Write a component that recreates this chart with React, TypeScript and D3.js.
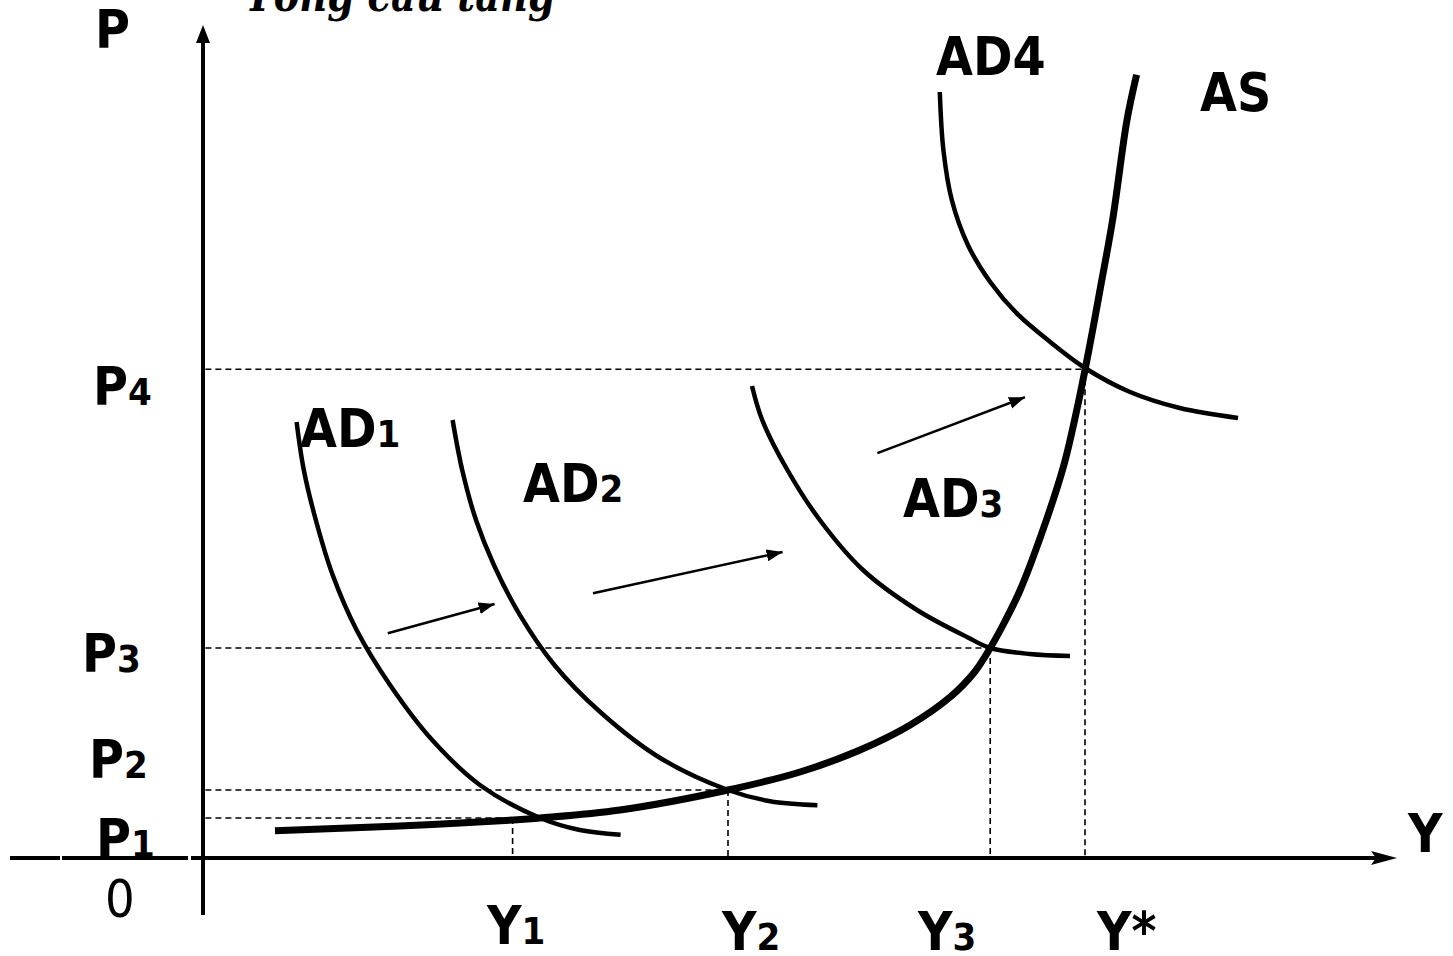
import React from 'react';
import * as d3 from 'd3';

// curves, [output Y, price level P] in chart units (0..100)
const asCurve: [number, number][] = [
  [6, 3.4], [16.4, 4], [25.8, 4.75], [28.1, 5], [34.75, 6], [43.75, 8.5],
  [49.75, 10.75], [54.75, 13.5], [58.9, 16.6], [62.25, 20.1], [64.3, 23.25],
  [65.6, 26.25], [66.8, 29.5], [68.1, 33.5], [69.9, 40.6], [71.7, 48.9],
  [72.9, 56.6], [73.9, 64.1], [74.75, 71], [75.8, 79.75], [77, 92.25], [77.8, 97.9],
];
const ad1: [number, number][] = [
  [7.8, 54.5], [8.4, 48.5], [9.4, 42.25], [10.8, 35.4], [12.8, 28.5],
  [15.6, 21.6], [19.1, 14.75], [23.1, 9.1], [28.1, 5], [31.4, 3.5], [34.8, 2.9],
];
const ad2: [number, number][] = [
  [20.8, 54.75], [21.6, 48.5], [22.75, 42.25], [24.25, 36.6], [26.4, 30.4],
  [29.3, 24.1], [33.1, 18.25], [38.1, 12.5], [43.75, 8.5], [47.25, 7.1], [51.2, 6.6],
];
const ad3: [number, number][] = [
  [45.75, 59], [46.6, 54.75], [48.7, 48.5], [51.4, 42.25], [55, 36],
  [59.5, 31], [63.7, 27.6], [65.6, 26.25], [68.9, 25.5], [72.25, 25.25],
];
const ad4: [number, number][] = [
  [61.4, 95.75], [61.7, 88.5], [62.4, 82.25], [63.75, 76.6], [65.6, 72],
  [67.8, 68.1], [70.6, 64.5], [73.5, 61.25], [77.25, 58.25], [81.4, 56.25], [86.25, 55],
];

const priceTicks = ['P1', 'P2', 'P3', 'P4'];
const outputTicks = ['Y1', 'Y2', 'Y3', 'Y*'];
const priceLevels = [5, 8.5, 26.25, 61.1];
const outputLevels = [25.8, 43.75, 65.6, 73.5];

// demand shift arrows: [from, to]
const shifts: [[number, number], [number, number]][] = [
  [[15.4, 28.1], [24.3, 31.75]],
  [[32.5, 33.1], [48.3, 38.25]],
  [[56.2, 50.6], [68.5, 57.6]],
];

const W = 1453;
const H = 956;
const x = d3.scaleLinear().domain([0, 100]).range([203, 1403]);
const y = d3.scaleLinear().domain([0, 100]).range([858, 58]);

const line = d3
  .line<[number, number]>()
  .x((d) => x(d[0]))
  .y((d) => y(d[1]))
  .curve(d3.curveCatmullRom.alpha(0.5));

const bold = {
  fontFamily: "'DejaVu Sans Condensed', 'DejaVu Sans', sans-serif",
  fontWeight: 'bold' as const,
  fontSize: 53,
};
const SUB = 38;

// label placement (left x, baseline)
const priceTickPos = [[96, 857], [89, 778], [82, 672], [93, 405]];
const outputTickPos = [[487, 944], [722, 950], [918, 950], [1097, 950]];

const Label = ({ x0, y0, text }: { x0: number; y0: number; text: string }) => {
  const head = text.replace(/[0-9]$/, '');
  const sub = text.slice(head.length);
  return (
    <text x={x0} y={y0} {...bold}>
      {head}
      {sub && <tspan fontSize={SUB}>{sub}</tspan>}
    </text>
  );
};

export default function App() {
  return (
    <svg
      width={W}
      height={H}
      style={{ position: 'absolute', left: 0, top: 0, background: '#fff' }}
    >
      <defs>
        <marker
          id="head"
          markerUnits="userSpaceOnUse"
          markerWidth={20}
          markerHeight={16}
          refX={16}
          refY={6}
          orient="auto"
        >
          <path d="M0,0L16,6L0,12Z" fill="#000" />
        </marker>
      </defs>

      {/* title cut off at the top edge */}
      <text
        x={245}
        y={11}
        fontFamily="'DejaVu Serif', serif"
        fontStyle="italic"
        fontWeight="bold"
        fontSize={46}
        textLength={310}
        lengthAdjust="spacingAndGlyphs"
      >
        Tổng cầu tăng
      </text>

      {/* dashed guides */}
      {priceLevels.map((p, i) => (
        <g key={i} stroke="#000" strokeWidth={1.6} strokeDasharray="6,4" fill="none">
          <line x1={x(0.2)} x2={x(outputLevels[i])} y1={y(p)} y2={y(p)} />
          <line x1={x(outputLevels[i])} x2={x(outputLevels[i])} y1={y(p)} y2={y(0)} />
        </g>
      ))}

      {/* axes */}
      <g stroke="#000" strokeWidth={4}>
        <line x1={10} x2={60} y1={y(0)} y2={y(0)} />
        <line x1={62} x2={188} y1={y(0)} y2={y(0)} />
        <line x1={191} x2={1385} y1={y(0)} y2={y(0)} />
        <line x1={x(0)} x2={x(0)} y1={915} y2={38} />
      </g>
      <path d={`M1397,${y(0)}L1371,${y(0) - 7}L1376,${y(0)}L1371,${y(0) + 7}Z`} fill="#000" />
      <path d={`M${x(0)},25L${x(0) - 7},43L${x(0) + 7},43Z`} fill="#000" />

      {/* curves */}
      {[ad1, ad2, ad3, ad4].map((c, i) => (
        <path key={i} d={line(c) ?? ''} fill="none" stroke="#000" strokeWidth={4.5} />
      ))}
      <path d={line(asCurve) ?? ''} fill="none" stroke="#000" strokeWidth={7} />

      {/* shift arrows */}
      {shifts.map(([a, b], i) => (
        <line
          key={i}
          x1={x(a[0])}
          y1={y(a[1])}
          x2={x(b[0])}
          y2={y(b[1])}
          stroke="#000"
          strokeWidth={2.5}
          markerEnd="url(#head)"
        />
      ))}

      {/* labels */}
      <text x={95} y={48} {...bold}>P</text>
      <text x={1408} y={852} {...bold}>Y</text>
      <text x={105} y={917} fontFamily="'DejaVu Sans Condensed', 'DejaVu Sans', sans-serif" fontSize={52}>
        0
      </text>
      {priceTicks.map((t, i) => (
        <Label key={t} x0={priceTickPos[i][0]} y0={priceTickPos[i][1]} text={t} />
      ))}
      {outputTicks.map((t, i) => (
        <Label key={t} x0={outputTickPos[i][0]} y0={outputTickPos[i][1]} text={t} />
      ))}
      <Label x0={300} y0={447} text="AD1" />
      <Label x0={523} y0={502} text="AD2" />
      <Label x0={903} y0={517} text="AD3" />
      <text x={936} y={75} {...bold}>AD4</text>
      <text x={1200} y={111} {...bold}>AS</text>
    </svg>
  );
}
